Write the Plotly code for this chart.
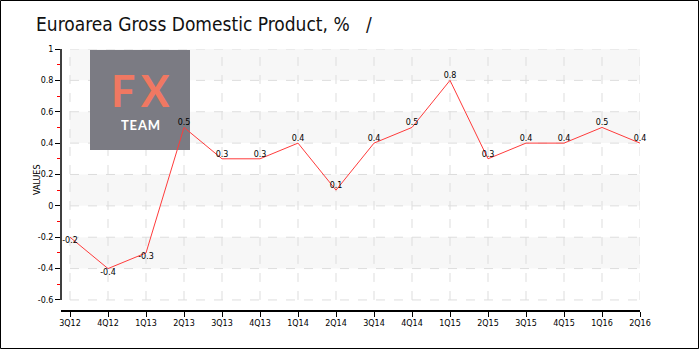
import plotly.graph_objects as go

categories = ["3Q12", "4Q12", "1Q13", "2Q13", "3Q13", "4Q13", "1Q14", "2Q14",
              "3Q14", "4Q14", "1Q15", "2Q15", "3Q15", "4Q15", "1Q16", "2Q16"]
values = [-0.2, -0.4, -0.3, 0.5, 0.3, 0.3, 0.4, 0.1, 0.4, 0.5, 0.8, 0.3, 0.4, 0.4, 0.5, 0.4]
y_ticks = [1, 0.8, 0.6, 0.4, 0.2, 0, -0.2, -0.4, -0.6]
y_tick_labels = ["1", "0.8", "0.6", "0.4", "0.2", "0", "-0.2", "-0.4", "-0.6"]
bands = [(0.8, 1.0), (0.4, 0.6), (0.0, 0.2), (-0.4, -0.2)]

xs = list(range(len(categories)))
n = len(categories)
FONT = "DejaVu Sans"

L, R, T, B = 61, 60, 49, 40
W, H = 700, 350
pw, ph = W - L - R, H - T - B
XR = [-0.237, n - 1]
YR = [-0.664, 1.0]

def px(xp):
    return (xp - L) / pw

def py(yp):
    return 1 - (yp - T) / ph

def dx(xp):
    return XR[0] + (xp - L) / pw * (XR[1] - XR[0])

def dy(yp):
    return YR[1] - (yp - T) / ph * (YR[1] - YR[0])

fig = go.Figure()
fig.add_trace(go.Scatter(
    x=xs, y=values, mode="lines+text",
    line=dict(color="#ff3b3b", width=1),
    text=[f"{v:g}" for v in values],
    textposition=["bottom center" if v < 0 else "top center" for v in values],
    textfont=dict(family=FONT, size=8, color="#000"),
    hoverinfo="skip", showlegend=False, cliponaxis=False))

shapes = []
for y0, y1 in bands:
    shapes.append(dict(type="rect", xref="x", yref="y", x0=0, x1=n - 1, y0=y0, y1=y1,
                       fillcolor="#f7f7f7", line=dict(width=0), layer="below"))
for yv in y_ticks:
    shapes.append(dict(type="line", xref="x", yref="y", x0=0, x1=n - 1, y0=yv, y1=yv,
                       line=dict(color="#dddddd", width=1, dash="dash"), layer="below"))
for xv in xs:
    shapes.append(dict(type="line", xref="x", yref="y", x0=xv, x1=xv, y0=min(y_ticks), y1=max(y_ticks),
                       line=dict(color="#dddddd", width=1, dash="dash"), layer="below"))
# logo (above grid, below the line)
shapes.append(dict(type="rect", xref="x", yref="y", x0=dx(90), x1=dx(190), y0=dy(150), y1=dy(50),
                   fillcolor="#7b7b83", line=dict(width=0), layer="below"))
# y axis line
shapes.append(dict(type="line", xref="paper", yref="y", x0=0, x1=0, y0=min(y_ticks), y1=max(y_ticks),
                   line=dict(color="#000", width=1.5)))
# outer border
shapes.append(dict(type="rect", xref="paper", yref="paper", x0=px(0.5), x1=px(698.5), y0=py(348.5), y1=py(0.5),
                   line=dict(color="#000", width=1)))

annotations = [
    dict(text="<b>F\u2009X</b>", xref="paper", yref="paper", x=px(140), y=py(90), showarrow=False,
         font=dict(family="Lato", size=43, color="#f07862"), xanchor="center", yanchor="middle",
         height=36),
    dict(text="<b>T\u200aE\u200aA\u200aM</b>", xref="paper", yref="paper", x=px(140), y=py(125), showarrow=False,
         font=dict(family="Lato", size=13, color="#ffffff"), xanchor="center", yanchor="middle",
         height=14),
    dict(text="Euroarea Gross Domestic Product, %   /", xref="paper", yref="paper",
         x=px(34), y=py(24), xanchor="left", yanchor="middle", showarrow=False,
         font=dict(family="DejaVu Sans Condensed", size=19, color="#111")),
    dict(text="VALUES", xref="paper", yref="paper", x=px(37), y=py(180), textangle=-90,
         showarrow=False, font=dict(family=FONT, size=8, color="#000"),
         xanchor="center", yanchor="middle"),
]

fig.update_layout(
    width=W, height=H, margin=dict(l=L, r=R, t=T, b=B),
    paper_bgcolor="#ffffff", plot_bgcolor="#ffffff",
    shapes=shapes, annotations=annotations,
    xaxis=dict(range=XR, tickmode="array", tickvals=xs, ticktext=categories,
               showgrid=False, zeroline=False, showline=True, linecolor="#000", linewidth=1.5,
               ticks="outside", ticklen=5, tickcolor="#000",
               tickfont=dict(family=FONT, size=8, color="#000"), fixedrange=True),
    yaxis=dict(range=YR, tickmode="array", tickvals=y_ticks, ticktext=y_tick_labels,
               showgrid=False, zeroline=False, showline=False,
               ticks="outside", ticklen=5, tickcolor="#000",
               minor=dict(tickvals=[0.9, 0.7, 0.5, 0.3, 0.1, -0.1, -0.3, -0.5], ticks="outside",
                          ticklen=3, tickcolor="#ff0000", showgrid=False),
               tickfont=dict(family=FONT, size=8, color="#000"), fixedrange=True),
)

fig.write_html("out.html")
